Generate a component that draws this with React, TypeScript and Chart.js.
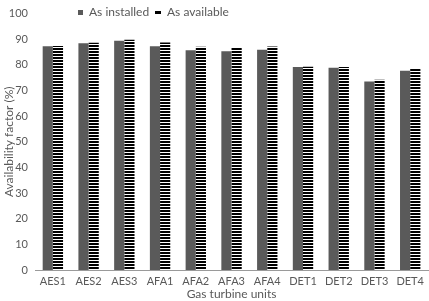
import React, { useEffect, useRef } from "react";
import { Chart, registerables } from "chart.js";

Chart.register(...registerables);

const categories = ["AES1", "AES2", "AES3", "AFA1", "AFA2", "AFA3", "AFA4", "DET1", "DET2", "DET3", "DET4"];
const asInstalled = [87.3, 88.4, 89.4, 87.3, 85.7, 85.3, 85.9, 79.2, 78.9, 73.5, 77.7];
const asAvailable = [87.4, 88.6, 89.8, 88.7, 87.1, 86.9, 87.2, 79.3, 79.2, 74.2, 78.4];
const seriesNames = ["As installed", "As available"];
const yTitle = "Availability factor (%)";
const xTitle = "Gas turbine units";

const FONT = "Lato, 'Open Sans', sans-serif";
const TEXT = "#595959";
const GRAY = "#5a5a5a";

function makeStripes(ctx: CanvasRenderingContext2D): CanvasPattern | string {
  const c = document.createElement("canvas");
  c.width = 4;
  c.height = 3;
  const g = c.getContext("2d");
  if (!g) return "#000";
  g.fillStyle = "#ffffff";
  g.fillRect(0, 0, 4, 3);
  g.fillStyle = "#000000";
  g.fillRect(0, 0, 4, 2);
  return ctx.createPattern(c, "repeat") || "#000";
}

const legendPlugin = {
  id: "customLegend",
  afterDraw(chart: any) {
    const ctx = chart.ctx as CanvasRenderingContext2D;
    ctx.save();
    ctx.font = `12px ${FONT}`;
    ctx.textBaseline = "middle";
    const y = 12.5;
    let x = 78;
    ctx.fillStyle = GRAY;
    ctx.fillRect(x, y - 2.5, 5, 5);
    ctx.fillStyle = TEXT;
    ctx.fillText(seriesNames[0], x + 11, y);
    x = 155;
    ctx.fillStyle = "#000";
    ctx.fillRect(x, y - 1.5, 6, 3);
    ctx.fillStyle = TEXT;
    ctx.fillText(seriesNames[1], x + 12, y);
    ctx.restore();
  },
};

export default function App() {
  const ref = useRef<HTMLCanvasElement>(null);
  useEffect(() => {
    const canvas = ref.current;
    if (!canvas) return;
    const ctx = canvas.getContext("2d")!;
    const stripes = makeStripes(ctx);
    const chart = new Chart(ctx, {
      type: "bar",
      data: {
        labels: categories,
        datasets: [
          {
            label: seriesNames[0],
            data: asInstalled,
            backgroundColor: GRAY,
            borderWidth: 0,
            categoryPercentage: 0.57,
            barPercentage: 1,
          },
          {
            label: seriesNames[1],
            data: asAvailable,
            backgroundColor: stripes as any,
            borderWidth: 0,
            categoryPercentage: 0.57,
            barPercentage: 1,
          },
        ],
      },
      options: {
        animation: false,
        responsive: false,
        maintainAspectRatio: false,
        layout: { padding: { top: 11, right: 0, left: 0, bottom: 0 } },
        plugins: {
          legend: { display: false },
          tooltip: { enabled: false },
        },
        scales: {
          x: {
            grid: { display: false, drawTicks: false },
            border: { display: true, color: "#9a9a9a", width: 1 },
            ticks: { color: TEXT, font: { family: FONT, size: 11 }, padding: 5, maxRotation: 0 },
            title: {
              display: true,
              text: xTitle,
              color: TEXT,
              font: { family: FONT, size: 12 },
              padding: { top: 1, bottom: 0 },
            },
            afterFit: (s: any) => {
              s.height = 31;
            },
          },
          y: {
            min: 0,
            max: 100,
            grid: { display: false, drawTicks: false },
            border: { display: false },
            ticks: { stepSize: 10, color: TEXT, font: { family: FONT, size: 11 }, padding: 7 },
            title: {
              display: true,
              text: yTitle,
              color: TEXT,
              font: { family: FONT, size: 12 },
              padding: { top: 2, bottom: 0 },
            },
            afterFit: (s: any) => {
              s.width = 35;
            },
          },
        },
      },
      plugins: [legendPlugin],
    });
    return () => chart.destroy();
  }, []);
  return (
    <div style={{ position: "absolute", left: 0, top: 0, width: 429, height: 301, background: "#fff" }}>
      <canvas ref={ref} width={429} height={301} style={{ display: "block" }} />
    </div>
  );
}
